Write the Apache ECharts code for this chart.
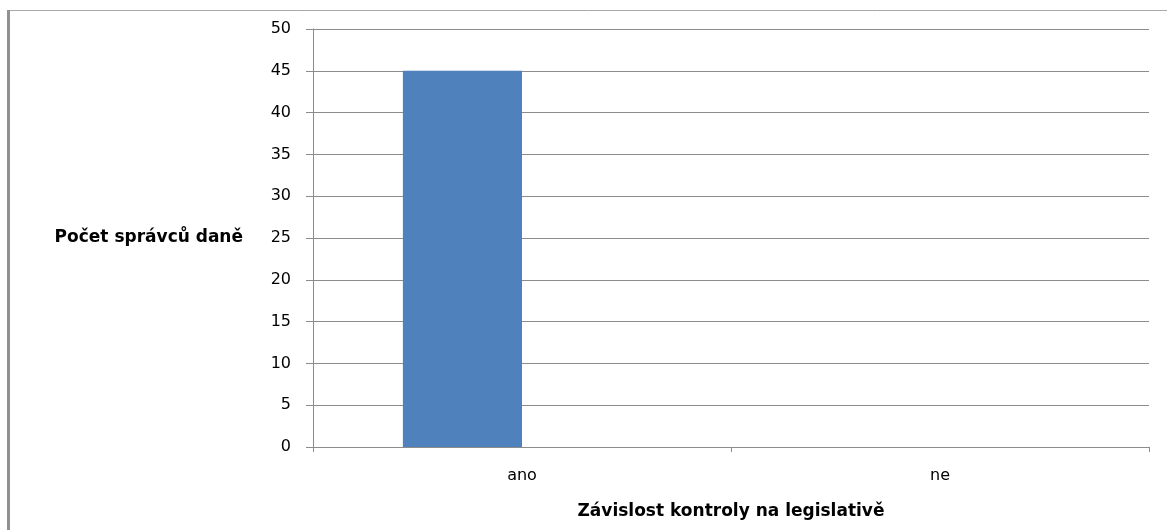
<!DOCTYPE html>
<html><head><meta charset="utf-8">
<script src="https://cdn.jsdelivr.net/npm/echarts@6/dist/echarts.min.js"></script>
<style>html,body{margin:0;padding:0;background:#fff}#c{width:1167px;height:530px}</style>
</head><body><div id="c"></div>
<script>
const categories = ['ano', 'ne'];
const values = [45, 0];
const emptySeries = [null, null];
const yTicks = { min: 0, max: 50, interval: 5 };
const yName = 'Počet správců daně';
const xName = 'Závislost kontroly na legislativě';

const chart = echarts.init(document.getElementById('c'), null, { renderer: 'canvas' });
chart.setOption({
  animation: false,
  backgroundColor: '#fff',
  textStyle: { fontFamily: 'DejaVu Sans' },
  graphic: [
    { type: 'line', shape: { x1: 8, y1: 10.5, x2: 1167, y2: 10.5 }, style: { stroke: '#a8a8a8', lineWidth: 1 } },
    { type: 'line', shape: { x1: 8.5, y1: 10, x2: 8.5, y2: 530 }, style: { stroke: '#909090', lineWidth: 3 } }
  ],
  grid: { left: 313, right: 18, top: 29, bottom: 83, containLabel: false },
  xAxis: {
    type: 'category',
    data: categories,
    name: xName,
    nameLocation: 'middle',
    nameGap: 56,
    nameTextStyle: { fontWeight: 'bold', fontSize: 17, color: '#000', fontFamily: 'DejaVu Sans' },
    axisLine: { lineStyle: { color: '#8c8c8c' } },
    axisTick: { show: true, length: 5, lineStyle: { color: '#8c8c8c' } },
    axisLabel: { margin: 21, fontSize: 16, color: '#000' }
  },
  yAxis: {
    type: 'value',
    min: yTicks.min, max: yTicks.max, interval: yTicks.interval,
    name: yName,
    nameLocation: 'middle',
    nameRotate: 0,
    nameGap: 70,
    nameTextStyle: { fontWeight: 'bold', fontSize: 17, color: '#000', align: 'right', verticalAlign: 'middle', fontFamily: 'DejaVu Sans', padding: [6, 0, 0, 0] },
    axisLine: { show: true, lineStyle: { color: '#8c8c8c' } },
    axisTick: { show: true, length: 7, lineStyle: { color: '#8c8c8c' } },
    axisLabel: { margin: 22, fontSize: 16, color: '#000' },
    splitLine: { show: true, lineStyle: { color: '#8c8c8c' } }
  },
  series: [
    { type: 'bar', data: values, barWidth: '28.5%', barGap: '0%', itemStyle: { color: '#4f81bd' } },
    { type: 'bar', data: emptySeries, barWidth: '28.5%', barGap: '0%', itemStyle: { color: '#c0504d' } }
  ]
});
</script></body></html>
